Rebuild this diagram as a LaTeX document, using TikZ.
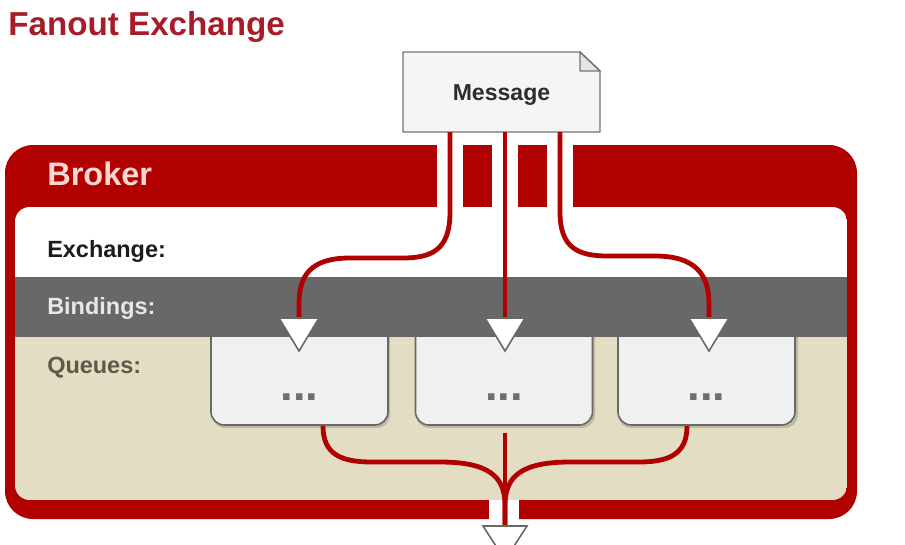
\documentclass[tikz,border=0pt]{standalone}
\usepackage{fontspec}
\setmainfont{Liberation Sans}
\definecolor{brokerred}{RGB}{176,0,0}
\definecolor{titlered}{RGB}{166,28,40}
\definecolor{brokertext}{RGB}{252,214,208}
\definecolor{bandgrey}{RGB}{104,104,104}
\definecolor{bindtext}{RGB}{232,232,232}
\definecolor{beige}{RGB}{227,221,196}
\definecolor{queuetext}{RGB}{92,90,72}
\definecolor{exchtext}{RGB}{28,28,28}
\definecolor{boxfill}{RGB}{240,240,241}
\definecolor{boxborder}{RGB}{105,105,100}
\definecolor{msgfill}{RGB}{245,245,245}
\definecolor{foldfill}{RGB}{228,228,228}
\definecolor{msgborder}{RGB}{115,115,115}
\definecolor{msgtext}{RGB}{45,45,45}
\definecolor{dotgrey}{RGB}{110,110,110}
\begin{document}
\begin{tikzpicture}[x=0.75pt,y=-0.75pt,
 redline/.style={draw=brokerred,line width=3.6pt},
 casing/.style={draw=white,line width=19pt},
 headtri/.style={fill=white,draw=boxborder,line width=1.2pt,line join=miter},
 qbox/.style={fill=boxfill,draw=boxborder,line width=1.2pt,rounded corners=10pt,minimum width=132.75pt,minimum height=78.75pt,inner sep=0pt},
 qshadow/.style={fill=black,opacity=0.16,rounded corners=10pt},
 rowlabel/.style={anchor=base west,inner sep=0pt,font=\fontsize{17.6}{20}\selectfont\bfseries},
 dots/.style={anchor=base,inner sep=0pt,text=dotgrey,font=\fontsize{34}{34}\selectfont\bfseries}]

\useasboundingbox (0,0) rectangle (905,544);
\clip (0,0) rectangle (905,544);

% title
\node[anchor=base west,inner sep=0pt,text=titlered,font=\fontsize{24.9}{28}\selectfont\bfseries] (title) at (8,35) {Fanout Exchange};

% broker frame
\fill[brokerred,rounded corners=21pt] (5,145) rectangle (857,519);

% white gaps where the lines cross the frame
\draw[casing] (450,135) -- (450,215);
\draw[casing] (505,135) -- (505,215);
\draw[casing] (560,135) -- (560,215);
\draw[draw=white,line width=23pt] (504,495) -- (504,544);

% inner bands
\begin{scope}
\clip[rounded corners=11pt] (15,207) rectangle (847,500);
\fill[white] (15,207) rectangle (847,277);
\fill[beige] (15,277) rectangle (847,500);
\end{scope}

% queue boxes
\fill[qshadow] (212,323) rectangle (390,428);
\fill[qshadow] (416,323) rectangle (595,428);
\fill[qshadow] (618,323) rectangle (798,428);
\node[qbox] (q1) at (299.5,372.5) {};
\node[qbox] (q2) at (504,372.5) {};
\node[qbox] (q3) at (706.5,372.5) {};

% bindings band
\fill[bandgrey] (15,277) rectangle (847,337);

% labels
\node[anchor=base west,inner sep=0pt,text=brokertext,font=\fontsize{24.4}{28}\selectfont\bfseries] (brk) at (47,185) {Broker};
\node[rowlabel,text=exchtext] (exl) at (47,257) {Exchange:};
\node[rowlabel,text=bindtext] (bil) at (47,314) {Bindings:};
\node[rowlabel,text=queuetext] (qul) at (47,373) {Queues:};

% message
\draw[fill=msgfill,draw=msgborder,line width=1.1pt,line join=round] (403,132) -- (403,52) -- (580,52) -- (600,71) -- (600,132) -- cycle;
\draw[fill=foldfill,draw=msgborder,line width=1.1pt,line join=round] (580,52) -- (580,71) -- (600,71) -- cycle;
\node[minimum width=147.75pt,minimum height=60pt,inner sep=0pt,text height=12.4pt,text depth=0pt,text=msgtext,font=\fontsize{17.3}{20}\selectfont\bfseries] (msg) at (501.5,92) {Message};

% connector end points
\coordinate (m1) at (450,132);
\coordinate (m2) at (505,132);
\coordinate (m3) at (560,132);
\coordinate (a1) at (299,318);
\coordinate (a2) at (505,318);
\coordinate (a3) at (709,318);
\coordinate (o1) at (323,426);
\coordinate (o2) at (505,433);
\coordinate (o3) at (687,426);
\coordinate (a4) at (505,526);

% red connectors
\draw[redline] (m1) -- (450,212) .. controls (450,250) and (432,258) .. (402,258) -- (350,258) .. controls (310,258) and (299,276) .. (299,304) -- (a1);
\draw[redline] (m2) -- (a2);
\draw[redline] (m3) -- (560,212) .. controls (560,248) and (578,256) .. (608,256) -- (655,256) .. controls (695,256) and (709,274) .. (709,304) -- (a3);
\draw[redline] (o1) .. controls (323,455) and (342,462) .. (372,462) -- (440,462) .. controls (488,462) and (505,476) .. (505,505) -- (a4);
\draw[redline] (o3) .. controls (687,455) and (668,462) .. (638,462) -- (570,462) .. controls (522,462) and (505,476) .. (505,505) -- (a4);
\draw[redline] (o2) -- (a4);

% arrow heads
\draw[headtri] (a1) ++(-20,0) -- ++(40,0) -- ++(-20,33) -- cycle;
\draw[headtri] (a2) ++(-20,0) -- ++(40,0) -- ++(-20,33) -- cycle;
\draw[headtri] (a3) ++(-20,0) -- ++(40,0) -- ++(-20,33) -- cycle;
\draw[headtri] (a4) ++(-22,0) -- ++(44,0) -- ++(-22,34) -- cycle;

% queue contents
\node[dots] (d1) at (299.5,400) {...};
\node[dots] (d2) at (504,400) {...};
\node[dots] (d3) at (706.5,400) {...};
\end{tikzpicture}
\end{document}
